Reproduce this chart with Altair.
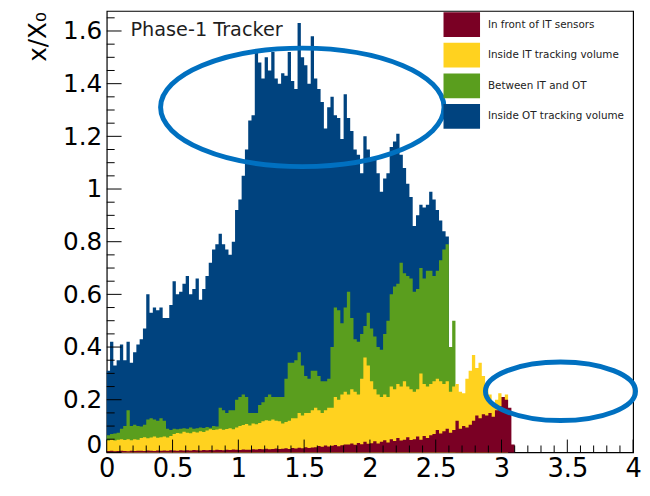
import altair as alt
import pandas as pd

# ---------------- data ----------------
BIN = 0.025  # eta bin width

layer_names = ["In front of IT sensors", "Inside IT tracking volume",
               "Between IT and OT", "Inside OT tracking volume"]
layer_colors = ["#7A0024", "#FFD21F", "#5A9E1E", "#00437F"]

# cumulative (stacked) top of each component, per eta bin starting at 0
ot_top = [
    0.31, 0.42, 0.33, 0.35, 0.41, 0.35, 0.42, 0.34, 0.38, 0.41,
    0.43, 0.47, 0.60, 0.53, 0.55, 0.54, 0.55, 0.51, 0.51, 0.56,
    0.65, 0.60, 0.61, 0.64, 0.67, 0.60, 0.62, 0.66, 0.58, 0.62,
    0.67, 0.72, 0.77, 0.79, 0.83, 0.79, 0.77, 0.75, 0.80, 0.92,
    0.96, 1.05, 1.15, 1.26, 1.28, 1.52, 1.48, 1.42, 1.50, 1.45,
    1.52, 1.42, 1.40, 1.44, 1.43, 1.52, 1.41, 1.38, 1.63, 1.50,
    1.47, 1.40, 1.58, 1.42, 1.38, 1.33, 1.23, 1.31, 1.35, 1.28,
    1.27, 1.19, 1.36, 1.27, 1.22, 1.15, 1.13, 1.06, 1.20, 1.15,
    1.12, 1.11, 1.06, 0.99, 1.04, 1.06, 1.16, 1.18, 1.21, 1.13,
    1.08, 1.02, 0.97, 0.86, 0.90, 0.94, 0.93, 0.94, 0.99, 0.96,
    0.92, 0.88, 0.84, 0.82,
]
between_top = [
    0.065, 0.07, 0.072, 0.075, 0.09, 0.10, 0.16, 0.10, 0.105, 0.10,
    0.098, 0.105, 0.125, 0.13, 0.125, 0.12, 0.13, 0.12, 0.09, 0.085,
    0.09, 0.088, 0.09, 0.092, 0.09, 0.095, 0.09, 0.092, 0.095, 0.093,
    0.096, 0.094, 0.10, 0.098, 0.17, 0.16, 0.15, 0.16, 0.16, 0.20,
    0.21, 0.22, 0.21, 0.15, 0.15, 0.15, 0.18, 0.19, 0.21, 0.22,
    0.21, 0.21, 0.21, 0.21, 0.28, 0.34, 0.34, 0.35, 0.38, 0.33,
    0.29, 0.28, 0.31, 0.31, 0.29, 0.27, 0.27, 0.28, 0.40, 0.55,
    0.54, 0.49, 0.55, 0.61, 0.51, 0.43, 0.42, 0.45, 0.48, 0.53,
    0.47, 0.44, 0.40, 0.39, 0.45, 0.50, 0.60, 0.63, 0.64, 0.72,
    0.68, 0.67, 0.66, 0.61, 0.62, 0.70, 0.66, 0.69, 0.69, 0.67,
    0.69, 0.73, 0.77, 0.79, 0.40, 0.50,
]
it_top = [
    0.045, 0.05, 0.045, 0.048, 0.05, 0.047, 0.05, 0.046, 0.05, 0.048,
    0.055, 0.058, 0.054, 0.057, 0.06, 0.056, 0.058, 0.06, 0.057, 0.062,
    0.07, 0.074, 0.072, 0.078, 0.075, 0.073, 0.078, 0.076, 0.08, 0.077,
    0.083, 0.088, 0.085, 0.087, 0.09, 0.086, 0.089, 0.092, 0.088, 0.095,
    0.10, 0.104, 0.108, 0.102, 0.11, 0.107, 0.112, 0.118, 0.122, 0.12,
    0.125, 0.12, 0.118, 0.11, 0.115, 0.12, 0.13, 0.13, 0.15, 0.14,
    0.15, 0.15, 0.16, 0.17, 0.16, 0.15, 0.16, 0.17, 0.17, 0.21,
    0.20, 0.22, 0.23, 0.22, 0.24, 0.23, 0.22, 0.28, 0.36, 0.33,
    0.27, 0.24, 0.22, 0.21, 0.22, 0.21, 0.25, 0.24, 0.26, 0.25,
    0.27, 0.25, 0.24, 0.23, 0.24, 0.30, 0.26, 0.25, 0.26, 0.27,
    0.28, 0.27, 0.26, 0.27, 0.23, 0.25, 0.26, 0.23, 0.225, 0.28,
    0.31, 0.37, 0.32, 0.34, 0.29, 0.25, 0.22, 0.18, 0.20, 0.225,
    0.21, 0.22,
]
front_top = [
    0.005, 0.006, 0.004, 0.005, 0.006, 0.005, 0.004, 0.006, 0.005, 0.006,
    0.006, 0.005, 0.007, 0.006, 0.005, 0.007, 0.006, 0.007, 0.006, 0.008,
    0.007, 0.006, 0.008, 0.007, 0.008, 0.007, 0.009, 0.008, 0.007, 0.009,
    0.008, 0.009, 0.008, 0.010, 0.009, 0.008, 0.010, 0.009, 0.011, 0.010,
    0.009, 0.011, 0.010, 0.010, 0.012, 0.011, 0.013, 0.012, 0.014, 0.012,
    0.013, 0.015, 0.013, 0.014, 0.016, 0.013, 0.017, 0.015, 0.018, 0.016,
    0.020, 0.017, 0.019, 0.020, 0.024, 0.021, 0.026, 0.022, 0.025, 0.028,
    0.023, 0.027, 0.030, 0.030, 0.034, 0.029, 0.036, 0.031, 0.040, 0.033,
    0.035, 0.042, 0.034, 0.040, 0.046, 0.038, 0.050, 0.043, 0.055, 0.045,
    0.048, 0.058, 0.047, 0.050, 0.060, 0.048, 0.062, 0.055, 0.065, 0.070,
    0.085, 0.072, 0.080, 0.090, 0.075, 0.085, 0.120, 0.090, 0.100, 0.095,
    0.105, 0.120, 0.140, 0.130, 0.145, 0.140, 0.150, 0.135, 0.160, 0.175,
    0.210, 0.200, 0.170, 0.030,
]

# axis ticks (ROOT style: major + minor, pointing inward)
x_major = [0, 0.5, 1, 1.5, 2, 2.5, 3, 3.5, 4]
x_minor = [0.1, 0.2, 0.3, 0.4, 0.6, 0.7, 0.8, 0.9, 1.1, 1.2, 1.3, 1.4,
           1.6, 1.7, 1.8, 1.9, 2.1, 2.2, 2.3, 2.4, 2.6, 2.7, 2.8, 2.9,
           3.1, 3.2, 3.3, 3.4, 3.6, 3.7, 3.8, 3.9]
y_major = [0, 0.2, 0.4, 0.6, 0.8, 1.0, 1.2, 1.4, 1.6]
y_minor = [0.05, 0.1, 0.15, 0.25, 0.3, 0.35, 0.45, 0.5, 0.55, 0.65, 0.7,
           0.75, 0.85, 0.9, 0.95, 1.05, 1.1, 1.15, 1.25, 1.3, 1.35, 1.45,
           1.5, 1.55, 1.65]

# hand-drawn highlight ellipses (centre in data coordinates)
ellipse_eta = [1.486, 3.448]
ellipse_val = [1.310, 0.232]

X_DOMAIN = [0, 4]
Y_DOMAIN = [0, 1.676]
W, H = 533, 447

# ---------------- build ----------------
xs = alt.Scale(domain=X_DOMAIN, nice=False, zero=False)
ys = alt.Scale(domain=Y_DOMAIN, nice=False, zero=False)
color_scale = alt.Scale(domain=layer_names, range=layer_colors)

legend = alt.Legend(
    title=None, orient="none", legendX=342, legendY=-3.75,
    symbolType="M-1.072,-0.725H1.072V0.725H-1.072Z", symbolSize=1190,
    symbolStrokeWidth=0, symbolOpacity=1, rowPadding=0, padding=0,
    labelFont="DejaVu Sans", labelFontSize=10.5, labelColor="#222222",
    labelOffset=9, labelLimit=300,
)

x_axis = alt.Axis(
    title=None, values=x_major, format="~g", grid=False, domain=False,
    ticks=False, labelFont="DejaVu Sans", labelFontSize=26,
    labelColor="#000000", labelPadding=3, labelFlush=False, labelOverlap=False,
)
y_axis = alt.Axis(
    title="x/X₀", values=y_major, format="~g", grid=False, domain=False,
    ticks=False, labelFont="DejaVu Sans", labelFontSize=25,
    labelColor="#000000", labelPadding=5, labelOverlap=False,
    labelOffset={"condition": {"test": "datum.value === 0", "value": -8}, "value": 0},
    titleFont="DejaVu Sans", titleFontSize=25, titleFontWeight="normal",
    titleColor="#000000", titleAngle=270, titleAlign="left",
    titleBaseline="alphabetic", titleX=-62, titleY=51,
)


def layer_frame(name, vals):
    etas = [round(i * BIN, 4) for i in range(len(vals) + 1)]
    tops = list(vals) + [vals[-1]]
    return pd.DataFrame({"layer": name, "eta": etas, "val": tops})


# draw order: OT (largest, behind) first, front-of-IT last
draw_order = [
    ("Inside OT tracking volume", ot_top),
    ("Between IT and OT", between_top),
    ("Inside IT tracking volume", it_top),
    ("In front of IT sensors", front_top),
]

hist_layers = []
for name, vals in draw_order:
    hist_layers.append(
        alt.Chart(layer_frame(name, vals))
        .mark_area(interpolate="step-after", opacity=1, strokeWidth=0)
        .encode(
            x=alt.X("eta:Q", scale=xs, axis=x_axis),
            y=alt.Y("val:Q", scale=ys, stack=None, axis=y_axis),
            color=alt.Color("layer:N", scale=color_scale, legend=legend),
        )
    )

xmaj = alt.Chart(pd.DataFrame({"eta": x_major})).mark_rule(color="black", strokeWidth=1).encode(
    x=alt.X("eta:Q", scale=xs, axis=x_axis), y=alt.value(H), y2=alt.value(H - 13))
xmin = alt.Chart(pd.DataFrame({"eta": x_minor})).mark_rule(color="black", strokeWidth=1).encode(
    x=alt.X("eta:Q", scale=xs, axis=x_axis), y=alt.value(H), y2=alt.value(H - 7))
ymaj = alt.Chart(pd.DataFrame({"val": y_major})).mark_rule(color="black", strokeWidth=1).encode(
    y=alt.Y("val:Q", scale=ys, axis=y_axis), x=alt.value(0), x2=alt.value(15))
ymin = alt.Chart(pd.DataFrame({"val": y_minor})).mark_rule(color="black", strokeWidth=1).encode(
    y=alt.Y("val:Q", scale=ys, axis=y_axis), x=alt.value(0), x2=alt.value(8))

label = alt.Chart(pd.DataFrame({"txt": ["Phase-1 Tracker"]})).mark_text(
    align="left", baseline="middle", font="DejaVu Sans", fontSize=19.5, color="#1e1e1e"
).encode(text="txt:N", x=alt.value(24), y=alt.value(19))

ell_df = pd.DataFrame({"eta": ellipse_eta, "val": ellipse_val})
ell1 = alt.Chart(ell_df.iloc[[0]]).mark_point(
    shape="M-1,0A1,0.418,0,1,0,1,0A1,0.418,0,1,0,-1,0Z", size=82369,
    filled=False, stroke="#0070C0", strokeWidth=5, opacity=1,
).encode(x=alt.X("eta:Q", scale=xs, axis=x_axis), y=alt.Y("val:Q", scale=ys, axis=y_axis))
ell2 = alt.Chart(ell_df.iloc[[1]]).mark_point(
    shape="M-1,0A1,0.39,0,1,0,1,0A1,0.39,0,1,0,-1,0Z", size=23104,
    filled=False, stroke="#0070C0", strokeWidth=5, opacity=1,
).encode(x=alt.X("eta:Q", scale=xs, axis=x_axis), y=alt.Y("val:Q", scale=ys, axis=y_axis))

chart = (
    alt.layer(*hist_layers, xmin, xmaj, ymin, ymaj, label, ell1, ell2)
    .properties(
        width=W, height=H,
        autosize=alt.AutoSizeParams(type="none"),
        padding={"left": 100, "top": 0, "right": 9, "bottom": 30},
        background="white",
    )
    .configure_view(stroke="black", strokeWidth=1.2)
)

chart.save("out.html", embed_options={"renderer": "svg", "actions": False})
